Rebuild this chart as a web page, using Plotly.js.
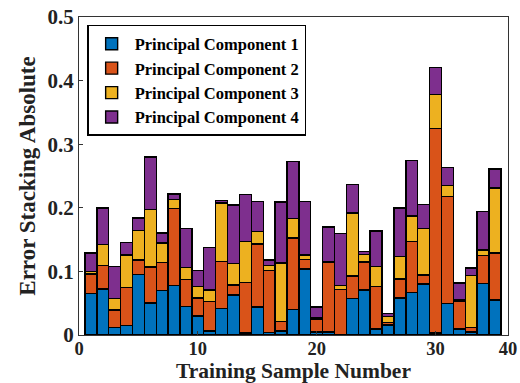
<!DOCTYPE html>
<html>
<head>
<meta charset="utf-8">
<script src="https://cdn.plot.ly/plotly-3.0.1.min.js"></script>
<style>html,body{margin:0;padding:0;background:#fff;}#chart{width:520px;height:383px;}</style>
</head>
<body>
<div id="chart"></div>
<script>
// Training sample numbers
const samples = [1,2,3,4,5,6,7,8,9,10,11,12,13,14,15,16,17,18,19,20,21,22,23,24,25,26,27,28,29,30,31,32,33,34,35];

// Stacked absolute errors per principal component
const pc1 = [0.065,0.0725,0.012,0.015,0.095,0.0505,0.070,0.078,0.045,0.030,0.006,0.042,0.0626,0.003,0.044,0.004,0.006,0.0405,0.104,0.005,0.005,0.001,0.057,0.071,0.0095,0.016,0.058,0.067,0.080,0.003,0.050,0.0095,0.005,0.081,0.055];
const pc2 = [0.031,0.0365,0.0275,0.060,0.023,0.0565,0.044,0.121,0.042,0.028,0.047,0.0737,0.016,0.080,0.099,0.097,0.015,0.112,0.015,0.020,0.109,0.071,0.036,0.044,0.067,0.004,0.030,0.080,0.0146,0.322,0.168,0.044,0.0066,0.044,0.074];
const pc3 = [0.004,0.0335,0.0175,0.051,0.0465,0.090,0.0306,0.014,0.019,0.018,0.018,0.092,0.034,0.064,0.020,0.008,0.092,0.0305,0.007,0.002,0.001,0.006,0.099,0.012,0.031,0.009,0.035,0.040,0.0725,0.0535,0.0175,0.002,0.082,0.0085,0.102];
const pc4 = [0.029,0.0575,0.051,0.019,0.0195,0.083,0.0157,0.009,0.061,0.0255,0.067,0.004,0.092,0.074,0.047,0.009,0.096,0.090,0.084,0.017,0.055,0.082,0.045,0.004,0.056,0.005,0.077,0.0875,0.038,0.042,0.0275,0.0265,0.0115,0.061,0.030];

const seriesNames = ['Principal Component 1','Principal Component 2','Principal Component 3','Principal Component 4'];
const seriesColors = ['#0072BD','#D95319','#EDB120','#7E2F8E'];

// x-axis tick labels as printed in the figure
const xTickText = ['0','10','20','30','40'];
const xTickVals = [0,10,20,30,36.1];
const yTickVals = [0,0.1,0.2,0.3,0.4,0.5];
const yTickText = ['0','0.1','0.2','0.3','0.4','0.5'];

const serif = 'Liberation Serif, Times New Roman, serif';
const allSeries = [pc1,pc2,pc3,pc4];

const traces = allSeries.map((vals,i)=>({
  type:'bar',
  x:samples,
  y:vals,
  name:seriesNames[i],
  legendgroup:'g'+i,
  marker:{color:seriesColors[i], line:{color:'#000', width:1.4}},
  width:1,
  hoverinfo:'x+y+name'
}));

const layout = {
  width:520, height:383,
  margin:{l:79, r:12, t:17, b:48},
  barmode:'stack',
  bargap:0,
  paper_bgcolor:'#fff',
  plot_bgcolor:'#fff',
  showlegend:true,
  legend:{
    x:0.019, y:0.975, xanchor:'left', yanchor:'top',
    bgcolor:'#fff', bordercolor:'#000', borderwidth:1.5,
    font:{family:serif, size:16.5, color:'#000', weight:'bold'},
    traceorder:'normal',
    tracegroupgap:5,
    itemwidth:36
  },
  xaxis:{
    range:[0,36.1],
    tickmode:'array', tickvals:xTickVals, ticktext:xTickText,
    ticks:'inside', ticklen:4, tickcolor:'#333',
    ticklabelstandoff:-3,
    showline:true, linecolor:'#333', linewidth:1, mirror:true,
    showgrid:false, zeroline:false,
    tickfont:{family:serif, size:18.5, color:'#222', weight:'bold'},
    title:{text:'Training Sample Number', font:{family:serif, size:21.5, color:'#222', weight:'bold'}, standoff:0}
  },
  yaxis:{
    range:[0,0.5],
    tickmode:'array', tickvals:yTickVals, ticktext:yTickText,
    ticks:'inside', ticklen:4, tickcolor:'#333',
    showline:true, linecolor:'#333', linewidth:1, mirror:true,
    showgrid:false, zeroline:false,
    tickfont:{family:serif, size:21, color:'#222', weight:'bold'},
    title:{text:'Error Stacking Absolute', font:{family:serif, size:23, color:'#222', weight:'bold'}, standoff:5}
  }
};

Plotly.newPlot('chart', traces, layout, {displayModeBar:false, staticPlot:true});
</script>
</body>
</html>
